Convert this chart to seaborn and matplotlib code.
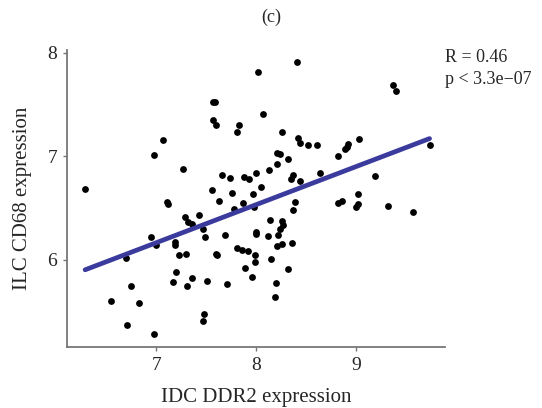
import pandas as pd
import matplotlib.pyplot as plt
import seaborn as sns

# values
idc_ddr2 = [6.29, 7.57, 7.59, 7.57, 7.60, 7.83, 7.81, 7.07, 6.98, 7.27,
            7.66, 7.74, 7.88, 7.93, 7.56, 8.02, 8.41, 9.36, 9.39, 8.07,
            8.26, 8.42, 8.44, 8.52, 8.61, 9.03, 8.92, 8.91, 8.89, 8.82,
            9.73, 8.21, 8.24, 8.32, 8.21, 8.13, 8.00, 8.37, 8.35, 8.44,
            8.64, 9.19, 8.05, 7.76, 7.63, 7.87, 7.78, 7.11, 7.12, 7.29,
            7.32, 7.36, 7.43, 7.47, 7.49, 7.69, 6.95, 7.00, 7.19, 7.19,
            6.70, 7.23, 7.30, 7.60, 7.61, 7.81, 7.86, 7.92, 7.89, 7.20,
            7.17, 7.36, 7.31, 7.51, 7.71, 6.75, 6.55, 6.83, 7.48, 7.47,
            6.71, 6.98, 7.97, 7.98, 8.39, 8.37, 8.82, 8.86, 9.02, 9.00,
            9.02, 9.31, 9.56, 8.14, 8.26, 8.27, 8.24, 8.00, 8.00, 8.12,
            8.22, 8.21, 8.26, 8.36, 7.99, 7.99, 8.15, 7.96, 8.32, 8.20,
            8.19]
ilc_cd68 = [6.68, 7.52, 7.52, 7.35, 7.30, 7.30, 7.23, 7.16, 7.01, 6.88,
            6.82, 6.79, 6.80, 6.78, 6.67, 7.81, 7.91, 7.69, 7.63, 7.41,
            7.23, 7.18, 7.13, 7.11, 7.11, 7.17, 7.12, 7.09, 7.07, 7.00,
            7.11, 7.03, 7.02, 6.97, 6.93, 6.87, 6.84, 6.82, 6.78, 6.76,
            6.84, 6.81, 6.70, 6.65, 6.57, 6.55, 6.49, 6.56, 6.54, 6.41,
            6.37, 6.35, 6.43, 6.30, 6.22, 6.24, 6.22, 6.14, 6.17, 6.14,
            6.02, 6.05, 6.06, 6.06, 6.05, 6.12, 6.10, 6.09, 5.92, 5.88,
            5.79, 5.83, 5.75, 5.80, 5.77, 5.75, 5.60, 5.59, 5.48, 5.41,
            5.37, 5.29, 6.64, 6.51, 6.56, 6.48, 6.55, 6.57, 6.64, 6.51,
            6.54, 6.52, 6.46, 6.39, 6.38, 6.34, 6.30, 6.27, 6.25, 6.23,
            6.24, 6.13, 6.15, 6.16, 6.05, 5.98, 6.01, 5.84, 5.91, 5.78,
            5.64]
x_ticks = [7, 8, 9]
y_ticks = [6, 7, 8]
r_label = "R = 0.46"
p_label = "p < 3.3e\u221207"

sns.set_style("ticks")
plt.rcParams['font.family'] = ['Liberation Serif', 'DejaVu Serif']

df = pd.DataFrame({"IDC DDR2 expression": idc_ddr2,
                   "ILC CD68 expression": ilc_cd68})

fig = plt.figure(figsize=(5.42, 4.08), dpi=100)
ax = fig.add_axes([0.1236, 0.1495, 0.6974, 0.7279])
sns.regplot(data=df, x="IDC DDR2 expression", y="ILC CD68 expression",
            ci=None, ax=ax,
            scatter_kws=dict(s=24, color="black", alpha=1, linewidths=0),
            line_kws=dict(color="#3b3b9e", linewidth=3.4))

ax.set_xlim(6.109, 9.884)
ax.set_ylim(5.161, 8.024)
ax.set_xticks(x_ticks)
ax.set_yticks(y_ticks)
ax.tick_params(length=3, width=1, color="#777777", labelsize=14, pad=4)
for side in ["top", "right"]:
    ax.spines[side].set_visible(False)
for side in ["left", "bottom"]:
    ax.spines[side].set_color("#777777")
    ax.spines[side].set_linewidth(1.3)

ax.set_xlabel("IDC DDR2 expression", fontsize=15, labelpad=10)
ax.set_ylabel("ILC CD68 expression", fontsize=15, labelpad=11)

fig.text(0.5, 1 - 17 / 408, "(c)", ha="center", va="center", fontsize=13)
fig.text(445 / 542, 1 - 62 / 408, r_label, va="baseline", fontsize=13)
fig.text(445 / 542, 1 - 83.5 / 408, p_label, va="baseline", fontsize=13)

fig.savefig("out.png", dpi=100)
